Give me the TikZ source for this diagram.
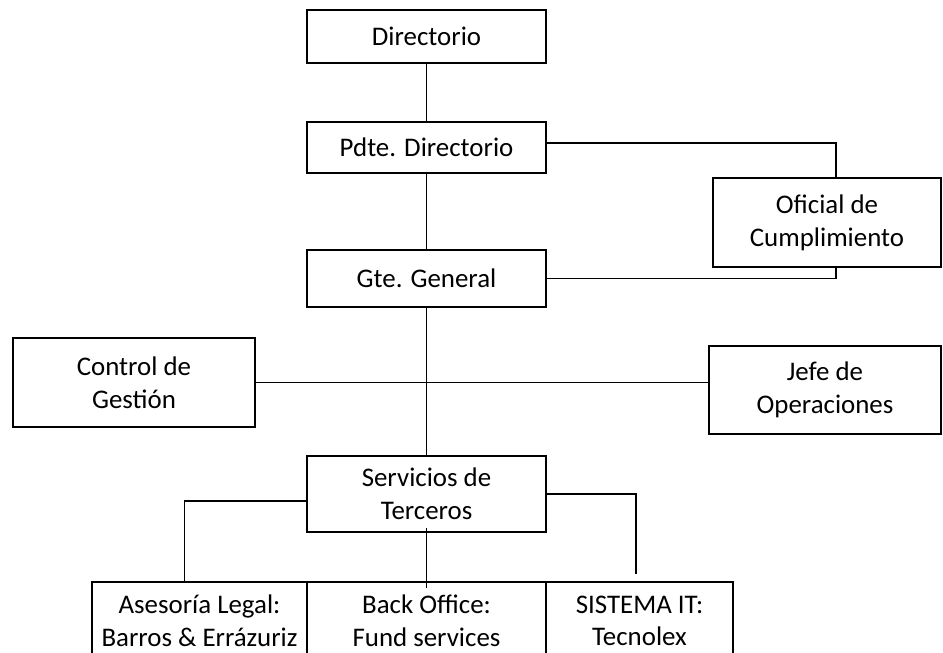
\documentclass[tikz,border=0pt]{standalone}
\usepackage{fontspec}
\setmainfont{Carlito}
\begin{document}
\begin{tikzpicture}
  \tikzset{
    orgbox/.style={draw,line width=1.1pt,align=center,inner sep=0pt,
      font=\fontsize{15.3}{18.6}\selectfont},
    orgline/.style={line width=0.6pt},
  }
  \useasboundingbox (0,0) rectangle (18.86,-13.04);
  \clip (0,0) rectangle (18.86,-13.04);
  \node[orgbox,minimum width=4.78cm,minimum height=1.06cm] (dir)  at (8.53,-0.73) {Directorio};
  \node[orgbox,minimum width=4.78cm,minimum height=1.02cm] (pdte) at (8.53,-2.95) {Pdte. Directorio};
  \node[orgbox,minimum width=4.78cm,minimum height=1.14cm] (gte)  at (8.53,-5.57) {Gte. General};
  \node[orgbox,minimum width=4.56cm,minimum height=1.78cm] (ofi)  at (16.54,-4.45) {Oficial de\\Cumplimiento};
  \node[orgbox,minimum width=4.84cm,minimum height=1.78cm] (ctrl) at (2.68,-7.65) {Control de\\Gestión};
  \node[orgbox,minimum width=4.64cm,minimum height=1.76cm] (jefe) at (16.50,-7.80) {Jefe de\\Operaciones};
  \node[orgbox,minimum width=4.78cm,minimum height=1.52cm] (serv) at (8.53,-9.88) {Servicios de\\Terceros};
  \node[orgbox,minimum width=4.30cm,minimum height=1.56cm] (ase)  at (3.99,-12.42) {Asesoría Legal:\\Barros \& Errázuriz};
  \node[orgbox,minimum width=4.78cm,minimum height=1.56cm] (back) at (8.53,-12.42) {Back Office:\\Fund services};
  \node[orgbox,minimum width=3.74cm,minimum height=1.56cm] (sis)  at (12.79,-12.42) {SISTEMA IT:\\Tecnolex};
  \draw[orgline] (dir) -- (pdte);
  \draw[orgline] (pdte) -- (gte);
  \draw[orgline] ([yshift=0.09cm]pdte.east) -| ([xshift=0.18cm]ofi.north);
  \draw[orgline] (gte.east) -| ([xshift=0.18cm]ofi.south);
  \draw[orgline] (gte) -- (serv);
  \draw[orgline] (ctrl.east) -- (ctrl.east -| jefe.west);
  \draw[orgline] ([yshift=-0.14cm]serv.west) -| ([xshift=-0.3cm]ase.north);
  \draw[orgline,shorten >=0.14cm] (serv.east) -| ([xshift=-0.07cm]sis.north);
  \draw[orgline] ([yshift=0.1cm]serv.south) -- ([yshift=-0.14cm]back.north);
\end{tikzpicture}
\end{document}
